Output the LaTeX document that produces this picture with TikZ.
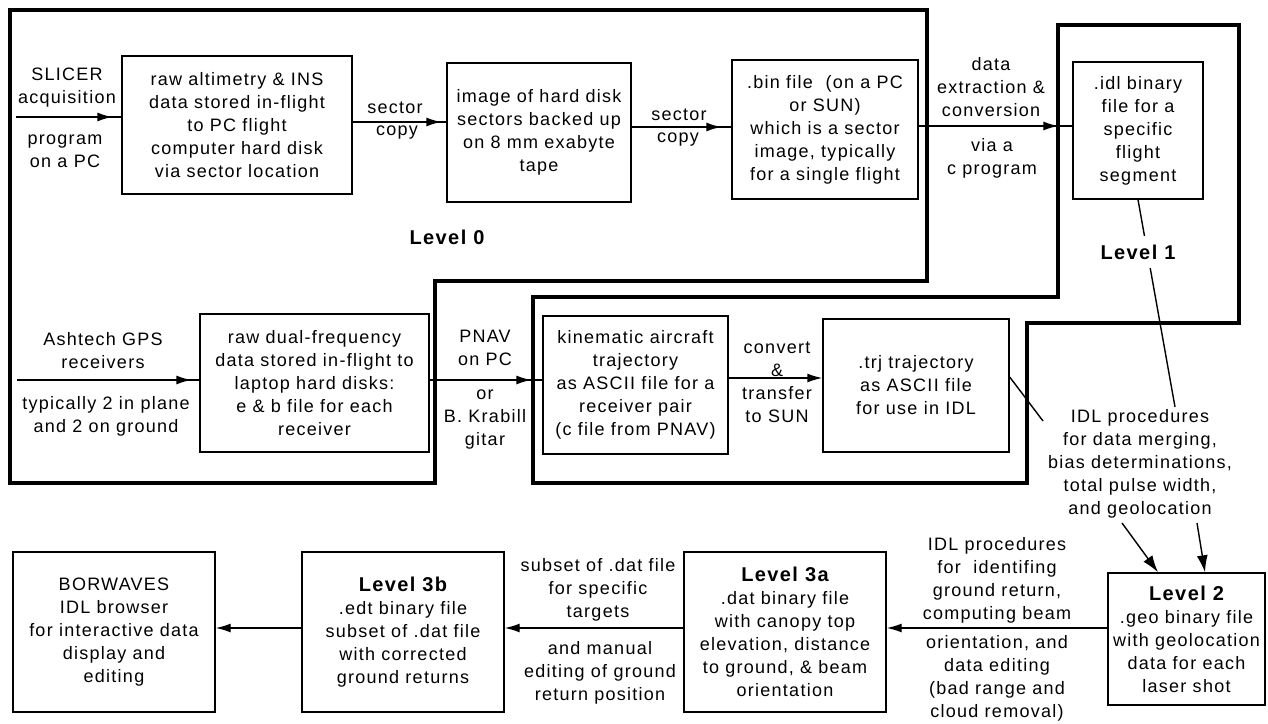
\documentclass[tikz,border=0pt]{standalone}
\usepackage{fontspec}
\setmainfont{Liberation Sans}[LetterSpace=7,Ligatures=NoCommon]
\usetikzlibrary{arrows.meta,decorations.markings,calc}
\newcommand\lvlfont{\fontsize{20}{23}\selectfont\bfseries}
\begin{document}
\begin{tikzpicture}[x=1pt,y=-1pt,
  every node/.style={font=\fontsize{18}{23}\selectfont, align=center, inner sep=0pt},
  box/.style={draw, line width=1.4pt},
  levelline/.style={line width=3.5pt, line join=miter},
  conn/.style={line width=1.4pt},
  tip/.style={-{Latex[length=15pt,width=9pt]}},
  bigtip/.style={-{Latex[length=17pt,width=11pt]}},
  midtip/.style={postaction={decorate}, decoration={markings, mark=at position -#1 with {\arrow{Latex[length=15pt,width=9pt]}}}},
  lvl/.style={font=\lvlfont},
]
\useasboundingbox (0,0) rectangle (1268,723);

% level outlines
\draw[levelline] (10,10) -- (927,10) -- (927,281) -- (435,281) -- (435,483) -- (10,483) -- cycle;
\draw[levelline] (533,297) -- (1058,297) -- (1058,25) -- (1239,25) -- (1239,323) -- (1027,323) -- (1027,483) -- (533,483) -- cycle;

% boxes
\node[box, minimum width=230pt, minimum height=138pt] (A) at (237,125) {raw altimetry \& INS\\data stored in-flight\\to PC flight\\computer hard disk\\via sector location};
\node[box, minimum width=184pt, minimum height=139pt] (B) at (539,132.5) {image of hard disk\\sectors backed up\\on 8 mm exabyte\\tape};
\node[box, minimum width=186pt, minimum height=139pt] (C) at (825,129.5) {.bin file\ \ (on a PC\\or SUN)\\which is a sector\\image, typically\\for a single flight};
\node[box, minimum width=130pt, minimum height=137pt] (D) at (1138,130.5) {.idl binary\\file for a\\specific\\flight\\segment};
\node[box, minimum width=229pt, minimum height=138pt] (E) at (314.5,383) {raw dual-frequency\\data stored in-flight to\\laptop hard disks:\\e \& b file for each\\receiver};
\node[box, minimum width=185pt, minimum height=138pt] (F) at (635.5,385) {kinematic aircraft\\trajectory\\as ASCII file for a\\receiver pair\\(c file from PNAV)};
\node[box, minimum width=186pt, minimum height=133pt] (G) at (916,385.5) {.trj trajectory\\as ASCII file\\for use in IDL};
\node[box, minimum width=157pt, minimum height=132pt] (H) at (1186.5,639) {{\lvlfont Level 2}\\.geo binary file\\with geolocation\\data for each\\laser shot};
\node[box, minimum width=202pt, minimum height=160pt] (I) at (785,632) {{\lvlfont Level 3a}\\.dat binary file\\with canopy top\\elevation, distance\\to ground, \& beam\\orientation};
\node[box, minimum width=202pt, minimum height=160pt] (J) at (403,632) {{\lvlfont Level 3b}\\.edt binary file\\subset of .dat file\\with corrected\\ground returns};
\node[box, minimum width=202pt, minimum height=160pt] (K) at (114,632) {BORWAVES\\IDL browser\\for interactive data\\display and\\editing};

% labels
\node (t1a) at (67,88) {SLICER\\acquisition};
\node (t1b) at (65,151.5) {program\\on a PC};
\node (t2a) at (395,108) {sector};
\node (t2b) at (397,133) {copy};
\node (t3a) at (679,115) {sector};
\node (t3b) at (678,140) {copy};
\node (t4a) at (991,87) {data\\extraction \&\\conversion};
\node (t4b) at (992,158.5) {via a\\c program};
\node (t5a) at (103,351) {Ashtech GPS\\receivers};
\node (t5b) at (106,416) {typically 2 in plane\\and 2 on ground};
\node (t6a) at (485,347.5) {PNAV\\on PC};
\node (t6b) at (485,420) {or\\B. Krabill\\gitar};
\node (t7) at (777,382.5) {convert\\\&\\transfer\\to SUN};
\node (P) at (1140,464) {IDL procedures\\for data merging,\\bias determinations,\\total pulse width,\\and geolocation};
\node (t8a) at (997,580.5) {IDL procedures\\for\ \ identifing\\ground return,\\computing beam};
\node (t8b) at (997,678.5) {orientation, and\\data editing\\(bad range and\\cloud removal)};
\node (t9a) at (598,590) {subset of .dat file\\for specific\\targets};
\node (t9b) at (600,672.5) {and manual\\editing of ground\\return position};
\node[lvl] (L0) at (447,237) {Level 0};

% connectors
\coordinate (s1) at (16,117);
\coordinate (s2) at (17,380);
\coordinate (pa) at (1043,421);
\coordinate (pb) at (1175,407);
\coordinate (q1) at (1122,523);
\coordinate (q2) at (1197,523);

\draw[conn, midtip=9pt] (s1) -- (s1 -| A.west);
\draw[conn, midtip=5pt] ([yshift=3pt]A.east) -- ([yshift=3pt]A.east -| B.west);
\draw[conn, midtip=10pt] ([yshift=5.5pt]B.east) -- ([yshift=5.5pt]B.east -| C.west);
\draw[conn, midtip=14pt] ([yshift=3.5pt]C.east) -- ([yshift=3.5pt]C.east -| D.west);
\draw[conn, midtip=8pt] (s2) -- (s2 -| E.west);
\draw[conn, midtip=11pt] ([yshift=3pt]E.east) -- ([yshift=3pt]E.east -| F.west);
\draw[conn, tip] ([yshift=7pt]F.east) -- ([yshift=7pt]F.east -| G.west);
\draw[conn, tip] ([yshift=11pt]H.west) -- ([yshift=11pt]H.west -| I.east);
\draw[conn, tip] ([yshift=4pt]I.west) -- ([yshift=4pt]I.west -| J.east);
\draw[conn, tip] ([yshift=4pt]J.west) -- ([yshift=4pt]J.west -| K.east);
\draw[conn] ([yshift=8.5pt]G.east) -- (pa);
\draw[conn] (D.south) -- (pb);
\draw[conn, bigtip] (q1) -- ([xshift=-28.5pt]H.north);
\draw[conn, bigtip] (q2) -- ([xshift=18.5pt]H.north);
\node[lvl, fill=white, inner ysep=9pt, inner xsep=2pt] (L1) at (1138,252) {Level 1};
\end{tikzpicture}
\end{document}
